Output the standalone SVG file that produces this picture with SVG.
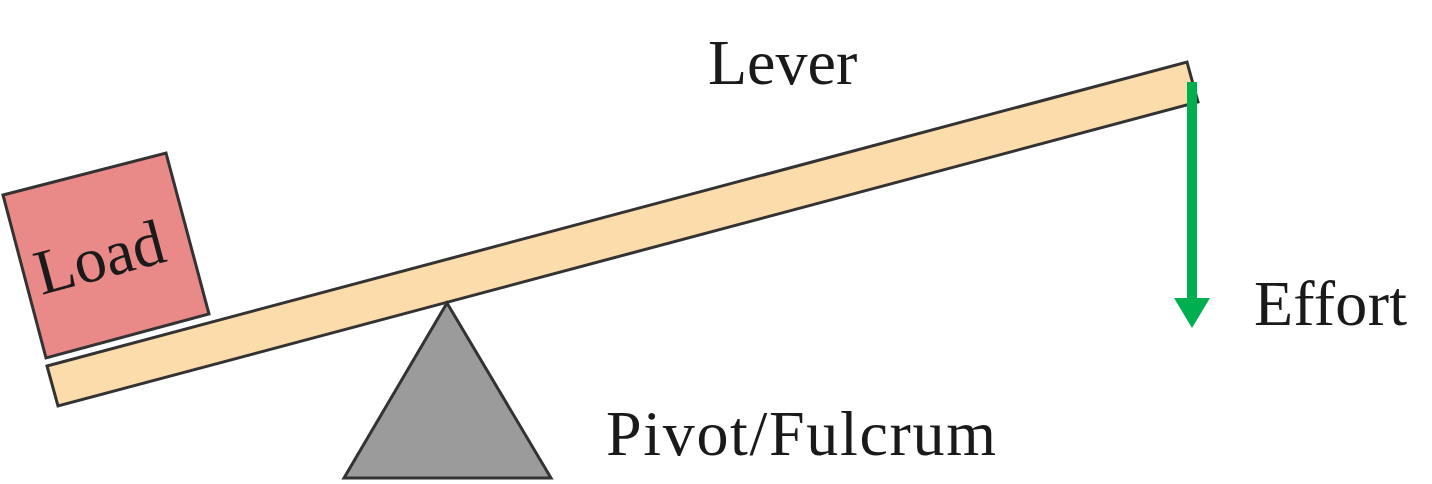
<svg xmlns="http://www.w3.org/2000/svg" width="1432" height="484" viewBox="0 0 1432 484">
<style>
.shape{stroke:#333333;stroke-width:3;stroke-linejoin:miter}
.lbl{font-family:"Liberation Serif","Times New Roman",serif;font-size:64px;fill:#1a1a1a}
</style>
<defs>
<marker id="ah" markerWidth="30" markerHeight="36" refX="0" refY="18" orient="auto" markerUnits="userSpaceOnUse" viewBox="0 0 30 36"><path d="M0,0 L30,18 L0,36 Z" fill="#00B050"/></marker>
</defs>
<rect width="1432" height="484" fill="#ffffff"/>
<g id="lever">
<polygon class="shape" points="47,366 1187,62 1198,102 58,406" fill="#FDDCAB"/>
</g>
<g id="load">
<polygon class="shape" points="3,195 166,153 209,314 46,358" fill="#EA8A88"/>
<text class="lbl" x="0" y="0" text-anchor="middle" font-size="68" transform="translate(105,278) rotate(-15)">Load</text>
</g>
<g id="fulcrum">
<polygon class="shape" points="447,303 551,478 344,478" fill="#9B9B9B"/>
</g>
<g id="connectors">
<line x1="1192" y1="82" x2="1192" y2="298" stroke="#00B050" stroke-width="10" marker-end="url(#ah)"/>
</g>
<g id="labels">
<text class="lbl" x="708" y="84">Lever</text>
<text class="lbl" x="1254" y="325" textLength="153" lengthAdjust="spacing">Effort</text>
<text class="lbl" x="606" y="455" textLength="390" lengthAdjust="spacing">Pivot/Fulcrum</text>
</g>
</svg>
